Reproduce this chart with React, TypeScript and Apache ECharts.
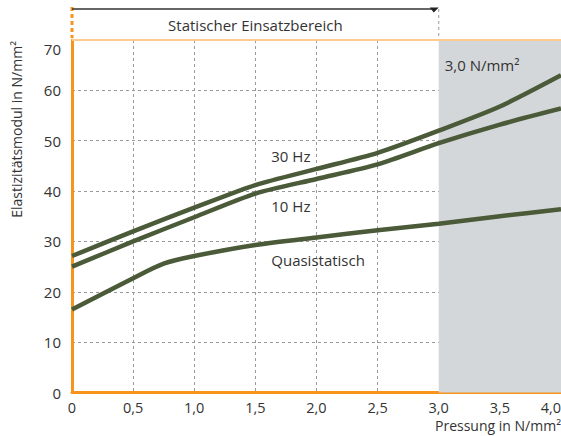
import React, { useEffect, useRef } from "react";
import * as echarts from "echarts";

// ---- data ----
const pressureHz = [0, 0.5, 1, 1.5, 2, 2.5, 3, 3.5, 4];
const modulus30Hz = [27.1, 32.0, 36.7, 41.2, 44.4, 47.6, 52.0, 56.8, 63.0];
const modulus10Hz = [25.0, 30.0, 34.8, 39.5, 42.4, 45.3, 49.5, 53.2, 56.4];
const pressureQuasi = [0, 0.5, 0.75, 1, 1.5, 2, 2.5, 3, 3.5, 4];
const modulusQuasi = [16.5, 22.7, 25.6, 27.1, 29.3, 30.8, 32.2, 33.5, 35.0, 36.4];

const curveLabels = [
  { text: "30 Hz", x: 1.63, y: 47.0 },
  { text: "10 Hz", x: 1.63, y: 37.0 },
  { text: "Quasistatisch", x: 1.63, y: 26.3 },
];
const staticRangeEnd = 3.0;
const xMax = 4.0;
const yMax = 70;
const rangeLabel = "Statischer Einsatzbereich";
const shadeLabel = "3,0 N/mm²";
const xName = "Pressung in N/mm²";
const yName = "Elastizitätsmodul in N/mm²";

const FONT = "Open Sans";
const TEXT = "#333333";
const CURVE = "#4b5a38";
const ORANGE = "#f7941d";
const LIGHT_ORANGE = "#fdcb90";
const GRID = "#9a9a9a";

const pairs = (xs: number[], ys: number[]) => xs.map((x, i) => [x, ys[i]]);
const fmt = (v: number) => (v === 0 ? "0" : v.toFixed(1).replace(".", ","));

export default function App() {
  const ref = useRef<HTMLDivElement>(null);
  useEffect(() => {
    if (!ref.current) return;
    const chart = echarts.init(ref.current, undefined, { renderer: "svg" });
    const lineSeries = (name: string, data: number[][], smooth = 0.25) => ({
      name,
      type: "line",
      data,
      smooth,
      showSymbol: false,
      symbol: "none",
      lineStyle: { color: CURVE, width: 4.5 },
      z: 3,
    });
    chart.setOption({
      animation: false,
      textStyle: { fontFamily: FONT },
      grid: {
        left: 72,
        right: 0,
        top: 40,
        bottom: 43.5,
        containLabel: false,
        outerBoundsMode: "none",
      },
      xAxis: {
        type: "value",
        min: 0,
        max: xMax,
        interval: 0.5,
        name: xName,
        nameLocation: "end",
        nameGap: 0,
        nameTextStyle: {
          color: TEXT,
          fontSize: 14,
          fontFamily: FONT,
          align: "right",
          verticalAlign: "top",
          padding: [26, 0, 0, 0],
        },
        axisLine: { show: true, lineStyle: { color: ORANGE, width: 3 } },
        axisTick: { show: false },
        axisLabel: {
          color: TEXT,
          fontSize: 14.5,
          fontFamily: FONT,
          margin: 7,
          formatter: (v: number) => fmt(v),
          alignMaxLabel: "right",
        },
        splitLine: { show: true, lineStyle: { color: GRID, type: [3, 3], width: 1 } },
      },
      yAxis: {
        type: "value",
        min: 0,
        max: yMax,
        interval: 10,
        axisLine: { show: true, lineStyle: { color: ORANGE, width: 3 } },
        axisTick: { show: false },
        axisLabel: {
          color: TEXT,
          fontSize: 15,
          fontFamily: FONT,
          margin: 11,
          formatter: (v: number) => (v === yMax ? "{lo|" + v + "}" : String(v)),
          rich: { lo: { padding: [18, 0, 0, 0], color: TEXT, fontSize: 15, fontFamily: FONT } },
        },
        splitLine: { show: true, lineStyle: { color: GRID, type: [3, 3], width: 1 } },
      },
      series: [
        {
          type: "line",
          data: [],
          z: -1,
          silent: true,
          markArea: {
            silent: true,
            itemStyle: { color: "#d4d7da" },
            label: {
              show: true,
              position: "insideTopLeft",
              formatter: shadeLabel,
              color: TEXT,
              fontSize: 15,
              fontFamily: FONT,
              offset: [1, 12],
            },
            data: [[{ xAxis: staticRangeEnd }, { xAxis: xMax }]],
          },
        },
        {
          type: "line",
          data: [],
          z: 4,
          silent: true,
          markLine: {
            silent: true,
            symbol: "none",
            label: { show: false },
            lineStyle: { color: LIGHT_ORANGE, width: 2, type: "solid" },
            data: [{ yAxis: yMax }],
          },
        },
        lineSeries("30 Hz", pairs(pressureHz, modulus30Hz)),
        lineSeries("10 Hz", pairs(pressureHz, modulus10Hz)),
        lineSeries("Quasistatisch", pairs(pressureQuasi, modulusQuasi), 0.3),
      ],
    });

    const px = (v: number) => chart.convertToPixel({ xAxisIndex: 0 }, v) as number;
    const py = (v: number) => chart.convertToPixel({ yAxisIndex: 0 }, v) as number;
    const x0 = px(0);
    const x3 = px(staticRangeEnd);
    const yTop = py(yMax);
    const yArrow = 9;

    const graphic: any[] = [
      {
        type: "line",
        shape: { x1: x0, y1: 7, x2: x0, y2: yTop - 2 },
        style: { stroke: ORANGE, lineWidth: 3, lineDash: [4, 3] },
      },
      {
        type: "line",
        shape: { x1: x0, y1: yArrow, x2: x3 - 4, y2: yArrow },
        style: { stroke: "#333", lineWidth: 1.5 },
      },
      {
        type: "polygon",
        shape: { points: [[x3 - 9, yArrow - 1.5], [x3, yArrow - 1.5], [x3 - 5, yArrow + 3.5]] },
        style: { fill: "#222" },
      },
      {
        type: "line",
        shape: { x1: x3, y1: yArrow, x2: x3, y2: yTop },
        style: { stroke: GRID, lineWidth: 1, lineDash: [3, 3] },
      },
      {
        type: "text",
        x: (x0 + x3) / 2,
        y: 25,
        style: {
          text: rangeLabel,
          fill: TEXT,
          font: `15px "${FONT}"`,
          textAlign: "center",
          textVerticalAlign: "middle",
        },
      },
      {
        type: "text",
        x: 16,
        y: 41,
        rotation: Math.PI / 2,
        style: {
          text: yName,
          fill: TEXT,
          font: `14px "${FONT}"`,
          textAlign: "right",
          textVerticalAlign: "middle",
        },
      },
      ...curveLabels.map((l) => ({
        type: "text",
        x: px(l.x),
        y: py(l.y),
        z: 10,
        style: {
          text: l.text,
          fill: TEXT,
          font: `15px "${FONT}"`,
          textAlign: "left",
          textVerticalAlign: "middle",
        },
      })),
    ];
    chart.setOption({ graphic });

    return () => chart.dispose();
  }, []);
  return (
    <div
      ref={ref}
      style={{ position: "fixed", left: 0, top: 0, width: 561, height: 436, background: "#fff" }}
    />
  );
}
